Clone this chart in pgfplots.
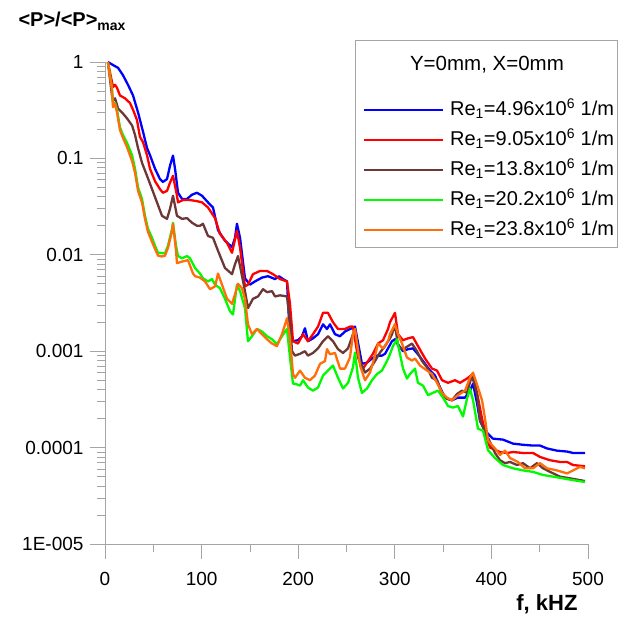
\documentclass[border=0pt]{standalone}
\usepackage{fontspec}
\setmainfont{Liberation Sans}
\usepackage{pgfplots}
\pgfplotsset{compat=1.18}
\definecolor{cblue}{RGB}{0,0,255}
\definecolor{cred}{RGB}{255,0,0}
\definecolor{cbrown}{RGB}{110,55,55}
\definecolor{cgreen}{RGB}{0,250,0}
\definecolor{corange}{RGB}{255,110,10}
\definecolor{axgray}{RGB}{165,165,165}
\begin{document}
\begin{tikzpicture}
\begin{axis}[
  scale only axis, width=483pt, height=482pt,
  xmin=0, xmax=500, ymin=1e-5, ymax=1,
  ymode=log, clip=false,
  axis lines=left,
  axis line style={axgray, line width=0.8pt, -},
  tick align=outside,
  major tick length=15pt, minor tick length=8pt,
  tick style={axgray, line width=0.8pt},
  xtick={0,100,200,300,400,500},
  minor x tick num=1,
  ytick={1e-5,1e-4,1e-3,1e-2,1e-1,1},
  yticklabels={1E-005,0.0001,0.001,0.01,0.1,1},
  minor ytick={2e-5,3e-5,4e-5,5e-5,6e-5,7e-5,8e-5,9e-5,
               2e-4,3e-4,4e-4,5e-4,6e-4,7e-4,8e-4,9e-4,
               2e-3,3e-3,4e-3,5e-3,6e-3,7e-3,8e-3,9e-3,
               2e-2,3e-2,4e-2,5e-2,6e-2,7e-2,8e-2,9e-2,
               0.2,0.3,0.4,0.5,0.6,0.7,0.8,0.9},
  /pgf/number format/assume math mode=true,
  ticklabel style={font=\fontsize{19}{22}\selectfont, text=black},
  xticklabel style={yshift=-10pt},
  yticklabel style={xshift=-3pt},
  xlabel={f, kHZ},
  xlabel style={font=\bfseries\fontsize{22}{26}\selectfont, at={(axis description cs:0.915,0)}, anchor=base, yshift=-66pt},
  ylabel={<P>/<P>\textsubscript{max}},
  ylabel style={rotate=-90, font=\bfseries\fontsize{20}{24}\selectfont, at={(axis description cs:0,1)}, anchor=base west, xshift=-90pt, yshift=35pt},
  legend style={draw=none, fill=none, at={(axis cs:267,0.408)}, anchor=north west,
    font=\fontsize{20}{24}\selectfont, row sep=9pt, column sep=6pt, inner sep=0pt,
    nodes={inner sep=0pt, text height=16pt, text depth=5pt}},
  legend cell align=left,
  legend image code/.code={\draw[#1, line width=2pt] (0pt,0pt) -- (79pt,0pt);},
  every axis plot/.append style={line width=2.3pt, line join=round},
]
\addplot[cblue] coordinates {(3,1.0) (8.3,0.93) (13.5,0.87) (18.6,0.73) (23.8,0.58) (29,0.45) (34.2,0.30) (39.3,0.19) (43.5,0.128) (46.6,0.108) (51.8,0.078) (56.9,0.061) (59.9,0.057) (64.2,0.061) (67.3,0.084) (70.4,0.107) (72.5,0.078) (75.6,0.044) (79.7,0.038) (84.9,0.038) (90,0.042) (95.2,0.044) (100.4,0.041) (106.6,0.035) (111.8,0.031) (117,0.018) (124.2,0.014) (131.5,0.012) (134.6,0.015) (136.6,0.021) (139.8,0.015) (144.9,0.0057) (150.1,0.0049) (155.3,0.0053) (162.5,0.0058) (168.7,0.0060) (176,0.0056) (180.1,0.0060) (184.3,0.0056) (188.4,0.0053) (191.5,0.00133) (194.6,0.00127) (199.8,0.0013) (203.9,0.00143) (207,0.00173) (210.1,0.00127) (215.3,0.00136) (220.5,0.0015) (225.7,0.0019) (229.8,0.0017) (232.9,0.0019) (238.1,0.0015) (243.3,0.00143) (248.4,0.0016) (253.6,0.0017) (256.7,0.00175) (258.8,0.0018) (266,0.00074) (271.2,0.00076) (276.4,0.00084) (281.6,0.0009) (286.7,0.0009) (289.9,0.00094) (293,0.00107) (297.1,0.00127) (300.2,0.00133) (303.3,0.00118) (308.5,0.001) (313.7,0.00105) (318.8,0.00107) (324,0.00093) (331.3,0.00074) (336.4,0.00063) (341.6,0.00056) (346.8,0.00042) (352,0.00033) (359.2,0.00031) (365.4,0.00033) (372.7,0.00033) (377.8,0.00039) (381,0.00046) (385.1,0.00029) (388.2,0.00019) (392.3,0.000157) (395.4,0.000143) (401.6,0.000124) (412,0.000121) (422.4,0.00011) (432.7,0.000107) (443.1,0.000105) (450.3,0.000105) (457.6,9.8e-5) (467.9,9.3e-5) (478.3,9.1e-5) (484.5,8.8e-5) (496.9,8.8e-5)};
\addlegendentry{Re\textsubscript{1}=4.96x10\textsuperscript{6} 1/m}
\addplot[cred] coordinates {(3,1.0) (8.3,0.55) (10.4,0.58) (12.4,0.54) (15.5,0.45) (20.7,0.42) (25.9,0.375) (29,0.32) (33.1,0.25) (36.2,0.167) (39.3,0.148) (43.5,0.108) (46.6,0.078) (51.8,0.058) (56.9,0.048) (59.9,0.044) (64.2,0.046) (67.3,0.056) (70.4,0.066) (74.5,0.041) (75.6,0.035) (80.7,0.037) (88,0.037) (95.2,0.036) (100.4,0.035) (106.6,0.031) (113.9,0.024) (119,0.0165) (126.3,0.0133) (131.5,0.0105) (136.6,0.0177) (139.8,0.0118) (144.9,0.0047) (148,0.0049) (153.2,0.0063) (160.5,0.0068) (167.7,0.0068) (173.9,0.0063) (181.2,0.0056) (188.4,0.0053) (191.5,0.0031) (194.6,0.00127) (199.8,0.0012) (205,0.0015) (210.1,0.00127) (215.3,0.0015) (220.5,0.0018) (225.7,0.0025) (230.8,0.0025) (236,0.002) (241.2,0.0017) (248.4,0.0017) (253.6,0.0018) (256.7,0.0018) (261.9,0.00086) (267.1,0.00066) (272.3,0.00079) (277.4,0.00094) (282.6,0.0012) (287.8,0.0013) (293,0.0017) (295,0.002) (300.2,0.0025) (303.3,0.0015) (308.5,0.0013) (313.7,0.00136) (318.8,0.0014) (324,0.00113) (331.3,0.00084) (338.5,0.00066) (343.7,0.00063) (348.9,0.0005) (355.1,0.00047) (362.3,0.0005) (367.5,0.00047) (374.7,0.00052) (380.9,0.00058) (386.1,0.00033) (390.3,0.0002) (394.4,0.000133) (398.6,0.0001) (408.9,9e-5) (416.1,8.8e-5) (422.4,9e-5) (432.7,8.8e-5) (443.1,8.8e-5) (450.3,8e-5) (460.7,7.4e-5) (471,7.1e-5) (478.3,7.1e-5) (484.5,6.6e-5) (496.9,6.4e-5)};
\addlegendentry{Re\textsubscript{1}=9.05x10\textsuperscript{6} 1/m}
\addplot[cbrown] coordinates {(3,1.0) (7.2,0.45) (8.3,0.40) (10.4,0.42) (13.5,0.33) (17.6,0.30) (22.8,0.26) (28,0.22) (31.1,0.175) (34.2,0.128) (38.3,0.09) (43.5,0.066) (48.7,0.048) (53.8,0.035) (59,0.0254) (64.2,0.0236) (67.3,0.030) (70.4,0.041) (74.5,0.0254) (79.7,0.0236) (84.9,0.024) (90.1,0.0215) (95.2,0.02) (98.3,0.02) (101.4,0.021) (106.6,0.0157) (111.8,0.015) (117,0.011) (124.2,0.0073) (131.5,0.0063) (134.6,0.008) (137.7,0.0097) (140.8,0.0068) (144.9,0.0042) (148,0.0028) (153.2,0.0035) (158.4,0.0037) (163.6,0.0044) (167.7,0.0041) (172.9,0.0042) (176,0.0037) (181.2,0.0038) (188.4,0.0037) (191.5,0.002) (193.6,0.001) (196.7,0.0009) (201.9,0.00094) (207,0.001) (210.1,0.0009) (215.3,0.00096) (220.5,0.00107) (225.7,0.00127) (230.8,0.00143) (236,0.00127) (241.2,0.00105) (246.4,0.00096) (251.6,0.00107) (256.7,0.0015) (258.8,0.0017) (264,0.00079) (269.2,0.0006) (274.3,0.00066) (279.5,0.00079) (284.7,0.00097) (289.9,0.00113) (295,0.00136) (297.1,0.0015) (300.2,0.0019) (303.3,0.00113) (308.5,0.00105) (313.7,0.00113) (317.8,0.0012) (323,0.001) (328.2,0.00079) (333.3,0.00068) (338.5,0.00053) (343.7,0.0005) (348.9,0.00036) (354,0.00032) (359.2,0.00031) (364.4,0.00036) (369.6,0.00039) (374.7,0.00037) (379.9,0.00056) (385.1,0.00036) (388.2,0.00019) (396.5,0.000127) (403.7,8.8e-5) (408.9,7.4e-5) (414.1,6.9e-5) (419.3,7.1e-5) (426.5,6.6e-5) (432.7,6.9e-5) (440,6.1e-5) (447.2,6.9e-5) (453.4,6.1e-5) (460.7,5.6e-5) (471,5e-5) (481.4,4.8e-5) (496.9,4.5e-5)};
\addlegendentry{Re\textsubscript{1}=13.8x10\textsuperscript{6} 1/m}
\addplot[cgreen] coordinates {(3,1.0) (7.2,0.54) (8.3,0.36) (10.4,0.375) (12.4,0.32) (15.5,0.21) (18.6,0.175) (22.8,0.145) (28,0.108) (31.1,0.078) (34.2,0.05) (38.3,0.038) (41.4,0.0254) (44.5,0.0186) (48.7,0.015) (51.8,0.0124) (54.9,0.0105) (59,0.0104) (62.1,0.0104) (65.2,0.0124) (69.4,0.0186) (70.4,0.0215) (73.5,0.0124) (75.6,0.0097) (79.7,0.0092) (84.9,0.0097) (88,0.0092) (93.2,0.0073) (98.3,0.0064) (101.4,0.0057) (106.6,0.0053) (110.8,0.0056) (113.9,0.0049) (119,0.0045) (124.2,0.0035) (129.4,0.0026) (132.5,0.0024) (136.6,0.0049) (139.8,0.0042) (144.9,0.0028) (148,0.00127) (152.2,0.00143) (157.3,0.0017) (162.5,0.0016) (167.7,0.00143) (172.9,0.00133) (178,0.00118) (183.2,0.00143) (188.4,0.0017) (191.5,0.00086) (194.6,0.00046) (196.7,0.00046) (201.9,0.00044) (205,0.0005) (210.1,0.00042) (215.3,0.00039) (220.5,0.00042) (225.7,0.00056) (230.8,0.00063) (236,0.00071) (241.2,0.00053) (246.4,0.00041) (251.6,0.00047) (256.7,0.00068) (258.8,0.00097) (261.9,0.00053) (266,0.00037) (271.2,0.00041) (276.4,0.0005) (281.6,0.00058) (286.7,0.00063) (291.9,0.00079) (295,0.00093) (298.1,0.00113) (302.3,0.00133) (305.4,0.00093) (308.5,0.00066) (312.6,0.00052) (315.7,0.00058) (320.9,0.00066) (324,0.00047) (329.2,0.00044) (334.4,0.00035) (339.5,0.00037) (344.7,0.00039) (349.9,0.00033) (355.1,0.00027) (360.2,0.00026) (365.4,0.00027) (370.6,0.00021) (374.7,0.00032) (377.8,0.00041) (381,0.00031) (386.1,0.000157) (391.3,0.00015) (396.5,9.4e-5) (403.7,7.8e-5) (412,6.6e-5) (422.4,6.1e-5) (432.7,5.8e-5) (443.1,5.6e-5) (453.4,5.2e-5) (463.8,5e-5) (474.1,4.8e-5) (484.5,4.6e-5) (496.9,4.4e-5)};
\addlegendentry{Re\textsubscript{1}=20.2x10\textsuperscript{6} 1/m}
\addplot[corange] coordinates {(3,1.0) (7.2,0.52) (8.3,0.34) (10.4,0.37) (12.4,0.30) (15.5,0.197) (18.6,0.163) (22.8,0.131) (28,0.094) (31.1,0.071) (34.2,0.046) (38.3,0.035) (41.4,0.0236) (44.5,0.0173) (48.7,0.0136) (51.8,0.0115) (54.9,0.0098) (59,0.0096) (62.1,0.0098) (65.2,0.0118) (69.4,0.0177) (70.4,0.021) (73.5,0.011) (74.5,0.0082) (79.7,0.0085) (85.9,0.0088) (91.1,0.0064) (93.2,0.006) (98.3,0.0058) (103.5,0.0053) (108.7,0.0044) (113.9,0.0047) (117,0.0064) (121.1,0.0049) (126.3,0.0035) (131.5,0.0031) (134.6,0.0039) (137.7,0.005) (141.8,0.0045) (144.9,0.0035) (148,0.0019) (152.2,0.0015) (157.3,0.0017) (162.5,0.0015) (167.7,0.00133) (172.9,0.0012) (178,0.00113) (183.2,0.0015) (188.4,0.0022) (191.5,0.00136) (194.6,0.00058) (196.7,0.00053) (201.9,0.00063) (207,0.00053) (212.2,0.0005) (217.4,0.00056) (222.6,0.00074) (227.7,0.00079) (229.8,0.00105) (232.9,0.00093) (238.1,0.00096) (243.3,0.00066) (248.4,0.00066) (253.6,0.00086) (256.7,0.0015) (258.8,0.0017) (264,0.00071) (269.2,0.0005) (274.3,0.0006) (279.5,0.0009) (282.6,0.0012) (287.8,0.00107) (293,0.00127) (295,0.0015) (300.2,0.0019) (303.3,0.0015) (307.5,0.0012) (312.6,0.00086) (317.8,0.0008) (320.9,0.00084) (326.1,0.00071) (333.3,0.00063) (338.5,0.00058) (343.7,0.00047) (348.9,0.00037) (354,0.00033) (359.2,0.00031) (365.4,0.00035) (372.7,0.00039) (377.8,0.00053) (381,0.0006) (386.1,0.00042) (390.3,0.00031) (393.4,0.0002) (396.5,0.000118) (403.7,9.8e-5) (408.9,8.4e-5) (414.1,9.3e-5) (419.3,7.8e-5) (427.5,7.1e-5) (434.8,6.1e-5) (443.1,6.1e-5) (450.3,6.9e-5) (457.6,6.1e-5) (467.9,5.8e-5) (478.3,5.4e-5) (484.5,5.8e-5) (491.7,6.3e-5) (496.9,6.1e-5)};
\addlegendentry{Re\textsubscript{1}=23.8x10\textsuperscript{6} 1/m}
\draw[axgray, line width=0.8pt] (axis cs:258.8,1.69) rectangle (axis cs:530,0.01205);
\node[anchor=base, font=\fontsize{20.5}{24}\selectfont] at (axis cs:395.4,0.826) {Y=0mm, X=0mm};
\end{axis}
\pgfresetboundingbox
\useasboundingbox ([shift={(-105pt,-73pt)}]current axis.south west) rectangle ([shift={(41pt,62pt)}]current axis.north east);
\end{tikzpicture}
\end{document}
